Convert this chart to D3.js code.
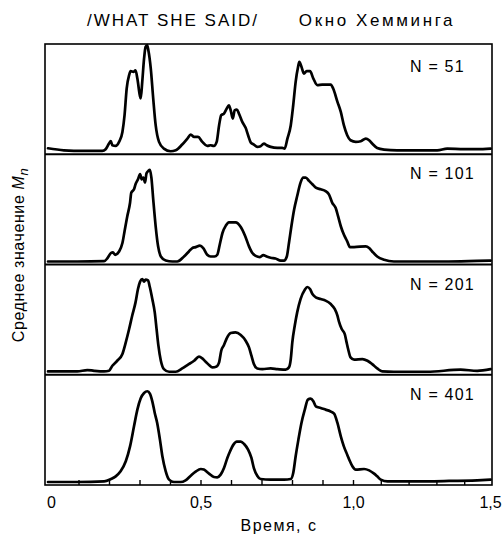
<!DOCTYPE html>
<html>
<head>
<meta charset="utf-8">
<script src="https://cdn.jsdelivr.net/npm/d3@7/dist/d3.min.js"></script>
<style>
  html, body { margin: 0; padding: 0; background: #fff; }
  svg { display: block; }
  text { font-family: "Liberation Sans", Arial, Helvetica, sans-serif; fill: #000; }
</style>
</head>
<body>
<svg id="chart" width="502" height="535"></svg>
<script>
// ---------------- DATA ----------------
const titleLeft = "/WHAT SHE SAID/";
const titleRight = "Окно Хемминга";
const yLabel = "Среднее значение ";
const xLabel = "Время, с";
const panelLabels = ["N = 51", "N = 101", "N = 201", "N = 401"];
const xTickValues = [0, 0.5, 1.0, 1.5];
const xTickLabels = ["0", "0,5", "1,0", "1,5"];

// [time (s), normalised mean value]
const seriesN51 = [
  [0,0.028],[0.052,0.009],[0.118,0.003],[0.178,0.003],[0.189,0.019],[0.200,0.072],[0.206,0.094],
  [0.211,0.056],[0.222,0.05],[0.233,0.088],[0.244,0.181],[0.251,0.338],[0.258,0.588],[0.266,0.713],
  [0.271,0.75],[0.280,0.744],[0.287,0.759],[0.293,0.681],[0.301,0.525],[0.304,0.494],[0.309,0.65],
  [0.315,0.869],[0.320,0.978],[0.325,0.994],[0.329,0.947],[0.337,0.775],[0.345,0.494],[0.353,0.244],
  [0.364,0.088],[0.380,0.025],[0.402,0],[0.419,0.009],[0.440,0.063],[0.457,0.119],[0.468,0.156],
  [0.479,0.134],[0.492,0.134],[0.506,0.088],[0.522,0.05],[0.533,0.056],[0.544,0.05],[0.553,0.088],
  [0.561,0.244],[0.568,0.338],[0.577,0.353],[0.586,0.4],[0.593,0.431],[0.599,0.384],[0.606,0.306],
  [0.612,0.384],[0.619,0.391],[0.626,0.353],[0.637,0.275],[0.648,0.219],[0.656,0.15],[0.665,0.081],
  [0.675,0.063],[0.686,0.041],[0.697,0.047],[0.708,0.072],[0.717,0.056],[0.730,0.041],[0.752,0.031],
  [0.768,0.031],[0.776,0.025],[0.785,0.119],[0.796,0.244],[0.804,0.431],[0.812,0.65],[0.820,0.791],
  [0.824,0.838],[0.831,0.791],[0.839,0.728],[0.848,0.75],[0.859,0.75],[0.870,0.681],[0.883,0.619],
  [0.899,0.625],[0.927,0.625],[0.935,0.588],[0.949,0.463],[0.960,0.369],[0.970,0.244],[0.981,0.15],
  [0.992,0.103],[1.010,0.088],[1.028,0.094],[1.046,0.119],[1.058,0.103],[1.069,0.072],[1.087,0.031],
  [1.112,0.016],[1.159,0.009],[1.231,0.009],[1.303,0.009],[1.339,0.025],[1.399,0.019],[1.447,0.019],
  [1.495,0.025]
];
const seriesN101 = [
  [0,0],[0.096,0],[0.184,0.003],[0.195,0.031],[0.206,0.079],[0.213,0.085],[0.220,0.063],[0.233,0.094],
  [0.244,0.173],[0.251,0.283],[0.260,0.425],[0.269,0.55],[0.273,0.645],[0.282,0.676],[0.287,0.723],
  [0.295,0.77],[0.302,0.818],[0.307,0.77],[0.313,0.786],[0.318,0.739],[0.323,0.827],[0.329,0.849],
  [0.334,0.858],[0.339,0.786],[0.345,0.582],[0.353,0.33],[0.361,0.142],[0.370,0.047],[0.386,0.009],
  [0.408,0],[0.424,0],[0.446,0.047],[0.462,0.094],[0.473,0.126],[0.484,0.135],[0.498,0.148],
  [0.509,0.126],[0.522,0.063],[0.533,0.047],[0.546,0.047],[0.555,0.063],[0.563,0.157],[0.572,0.267],
  [0.583,0.336],[0.593,0.367],[0.615,0.367],[0.632,0.324],[0.646,0.242],[0.659,0.142],[0.670,0.079],
  [0.681,0.053],[0.695,0.041],[0.706,0.06],[0.717,0.047],[0.730,0.035],[0.746,0.028],[0.763,0.009],
  [0.774,0.009],[0.783,0.047],[0.790,0.173],[0.798,0.33],[0.807,0.487],[0.817,0.613],[0.828,0.739],
  [0.837,0.786],[0.845,0.786],[0.856,0.755],[0.867,0.723],[0.878,0.692],[0.894,0.676],[0.910,0.66],
  [0.921,0.629],[0.932,0.55],[0.943,0.503],[0.951,0.425],[0.960,0.33],[0.970,0.252],[0.981,0.189],
  [0.990,0.135],[1.004,0.135],[1.046,0.142],[1.058,0.126],[1.069,0.094],[1.087,0.047],[1.112,0.016],
  [1.147,0],[1.207,0],[1.327,0],[1.447,0.006],[1.495,0.009]
];
const seriesN201 = [
  [0,0.003],[0.052,0.003],[0.096,0.003],[0.129,0.016],[0.151,0.009],[0.184,0.003],[0.200,0.009],
  [0.211,0.056],[0.227,0.103],[0.244,0.166],[0.255,0.275],[0.266,0.4],[0.276,0.525],[0.287,0.65],
  [0.295,0.775],[0.302,0.844],[0.309,0.869],[0.315,0.844],[0.320,0.863],[0.328,0.856],[0.334,0.791],
  [0.342,0.681],[0.350,0.556],[0.356,0.4],[0.362,0.244],[0.370,0.103],[0.380,0.025],[0.397,0],
  [0.419,0],[0.440,0.031],[0.457,0.063],[0.479,0.103],[0.495,0.141],[0.506,0.125],[0.517,0.094],
  [0.528,0.063],[0.539,0.041],[0.553,0.05],[0.561,0.088],[0.568,0.197],[0.577,0.25],[0.586,0.313],
  [0.599,0.363],[0.615,0.369],[0.632,0.344],[0.648,0.291],[0.659,0.228],[0.667,0.15],[0.675,0.072],
  [0.686,0.031],[0.703,0.025],[0.730,0.031],[0.752,0.025],[0.779,0.019],[0.790,0.041],[0.796,0.119],
  [0.801,0.275],[0.809,0.431],[0.817,0.556],[0.828,0.681],[0.842,0.769],[0.850,0.794],[0.859,0.775],
  [0.867,0.728],[0.878,0.697],[0.894,0.681],[0.910,0.666],[0.927,0.634],[0.940,0.588],[0.949,0.525],
  [0.954,0.469],[0.963,0.4],[0.973,0.353],[0.979,0.275],[0.984,0.213],[0.992,0.134],[1.004,0.113],
  [1.034,0.119],[1.052,0.103],[1.069,0.072],[1.087,0.031],[1.105,0.003],[1.147,0],[1.267,0],
  [1.387,0.019],[1.447,0.009],[1.495,0.025]
];
const seriesN401 = [
  [0,0],[0.096,0],[0.184,0.006],[0.206,0.028],[0.222,0.053],[0.238,0.1],[0.255,0.194],[0.269,0.334],
  [0.282,0.522],[0.293,0.678],[0.304,0.784],[0.315,0.834],[0.326,0.85],[0.334,0.828],[0.342,0.756],
  [0.350,0.647],[0.358,0.553],[0.367,0.397],[0.375,0.241],[0.386,0.1],[0.397,0.022],[0.413,0],
  [0.435,0],[0.451,0.016],[0.468,0.059],[0.484,0.097],[0.501,0.122],[0.511,0.116],[0.528,0.078],
  [0.544,0.047],[0.555,0.044],[0.566,0.069],[0.577,0.131],[0.588,0.225],[0.597,0.288],[0.608,0.35],
  [0.619,0.378],[0.632,0.378],[0.643,0.356],[0.656,0.303],[0.667,0.225],[0.675,0.131],[0.686,0.059],
  [0.697,0.028],[0.730,0.022],[0.774,0.022],[0.796,0.028],[0.804,0.084],[0.812,0.241],[0.821,0.397],
  [0.831,0.553],[0.842,0.678],[0.852,0.772],[0.861,0.781],[0.870,0.756],[0.878,0.709],[0.894,0.694],
  [0.910,0.678],[0.925,0.663],[0.938,0.641],[0.949,0.553],[0.960,0.428],[0.970,0.334],[0.981,0.256],
  [0.990,0.194],[0.998,0.147],[1.010,0.116],[1.040,0.122],[1.058,0.109],[1.076,0.078],[1.087,0.053],
  [1.100,0.022],[1.124,0.006],[1.207,0.006],[1.327,0.009],[1.447,0.016],[1.495,0.022]
];
const allSeries = [seriesN51, seriesN101, seriesN201, seriesN401];

// ---------------- LAYOUT ----------------
const svg = d3.select("#chart");
const frame = { left: 45, right: 492, top: 44, bottom: 485 };
const nPanels = allSeries.length;

const x = d3.scaleLinear().domain([0, 1.0, 1.5]).range([48, 353, frame.right]);
const panel = d3.scaleBand().domain(d3.range(nPanels)).range([frame.top, frame.bottom]).padding(0);
const line = d3.line().curve(d3.curveMonotoneX);

allSeries.forEach((data, i) => {
  const top = panel(i), bottom = top + panel.bandwidth();
  const y = d3.scaleLinear().domain([0, 1]).range([bottom - 3, top + 0.5]);
  line.x(d => x(d[0])).y(d => y(d[1]));
  svg.append("path")
    .datum(data)
    .attr("d", line)
    .attr("fill", "none")
    .attr("stroke", "#000")
    .attr("stroke-width", 2.7)
    .attr("stroke-linejoin", "round")
    .attr("stroke-linecap", "round");

  svg.append("text")
    .attr("x", frame.right - 82)
    .attr("y", top + (i === 0 ? 28 : 25))
    .attr("font-size", 16)
    .attr("letter-spacing", 1.2)
    .text(panelLabels[i]);

  if (i > 0) {
    svg.append("line")
      .attr("x1", frame.left).attr("x2", frame.right)
      .attr("y1", top).attr("y2", top)
      .attr("stroke", "#000").attr("stroke-width", 1.8);
  }
});

// outer frame
svg.append("rect")
  .attr("x", frame.left).attr("y", frame.top)
  .attr("width", frame.right - frame.left).attr("height", frame.bottom - frame.top)
  .attr("fill", "none").attr("stroke", "#000").attr("stroke-width", 1.6);

// inner minor ticks on bottom axis
const minorAxis = d3.axisBottom(x)
  .tickValues(d3.range(1, 15).map(k => k / 10))
  .tickSizeInner(-5).tickSizeOuter(0).tickFormat("");
const gMinor = svg.append("g").attr("transform", `translate(0,${frame.bottom})`).call(minorAxis);
gMinor.select(".domain").remove();
gMinor.selectAll("line").attr("stroke", "#000").attr("stroke-width", 1.4);

// tick labels
const labelAxis = d3.axisBottom(x)
  .tickValues(xTickValues)
  .tickSize(0).tickPadding(12)
  .tickFormat((d, i) => xTickLabels[i]);
const gLab = svg.append("g").attr("transform", `translate(0,${frame.bottom})`).call(labelAxis);
gLab.select(".domain").remove();
gLab.selectAll("text")
  .attr("font-size", 16)
  .style("font-family", "'Liberation Sans', Arial, sans-serif")
  .attr("fill", "#000")
  .attr("dx", (d, i) => i === 0 ? 3 : (i === xTickValues.length - 1 ? -2 : 0));

// titles
svg.append("text").attr("x", 173).attr("y", 26).attr("text-anchor", "middle")
  .attr("font-size", 17).attr("letter-spacing", 2).text(titleLeft);
svg.append("text").attr("x", 377).attr("y", 26).attr("text-anchor", "middle")
  .attr("font-size", 17).attr("letter-spacing", 2.6).text(titleRight);

// x label
svg.append("text").attr("x", 279).attr("y", 531).attr("text-anchor", "middle")
  .attr("font-size", 16).attr("letter-spacing", 1.5).text(xLabel);

// y label
const yl = svg.append("text")
  .attr("transform", "translate(24,255) rotate(-90)")
  .attr("text-anchor", "middle")
  .attr("font-size", 16).attr("letter-spacing", 0.6);
yl.append("tspan").text(yLabel);
yl.append("tspan").attr("font-style", "italic").text("M");
yl.append("tspan").attr("font-style", "italic").attr("font-size", 13).attr("dy", 4).text("n");
</script>
</body>
</html>
